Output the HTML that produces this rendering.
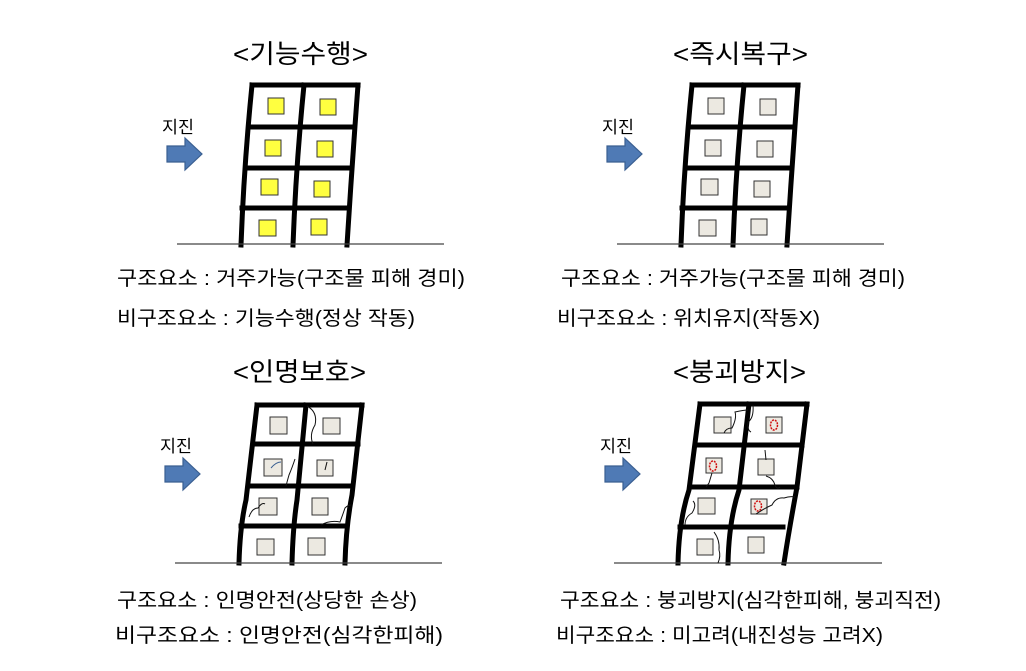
<!DOCTYPE html>
<html><head><meta charset="utf-8"><style>
body{margin:0;background:#fff;width:1026px;height:666px;overflow:hidden}
svg text{font-family:"Liberation Sans","Noto Sans CJK KR",sans-serif;fill:#000}
</style></head><body>
<svg width="1026" height="666" viewBox="0 0 1026 666" xmlns="http://www.w3.org/2000/svg">
<defs>
<g id="arrow"><path d="M0,-8 H18 V-16 L35,0 L18,16 V8 H0 Z" fill="#4f7ab5" stroke="#3a5f91" stroke-width="1.2"/></g>
</defs>
<g fill="none" stroke="#000" stroke-width="5" stroke-linecap="square">
<path d="M252,85 H358 M250,127 H354 M246,168 H351 M242,208 H349"/>
<path d="M252,85 Q244,165 241,245 M304,85 Q296,165 293,245 M358,85 Q352,165 347,245"/>
<path d="M692,85 H798 M690,127 H794 M686,168 H791 M682,208 H789"/>
<path d="M692,85 Q684,165 681,245 M744,85 Q736,165 733,245 M798,85 Q792,165 787,245"/>
<path d="M257,405 H362 M253,444 H358 M248,486 H352 M241,526 H345"/>
<path d="M257,405 L246,500 Q240,526 239,563 M306,405 L297,500 Q293,526 292,563 M362,405 L352,495 Q346,526 345,563"/>
<path d="M700,404 H807 M696,445 H802 M691,487 H797 M680,527 H783"/>
<path d="M700,404 L689,490 Q679,520 678,563 M749,404 L739,490 Q729,520 728,563 M807,404 L797,487 Q789,530 784,563"/>
</g>
<g stroke="#444" stroke-width="1.2">
<line x1="177" y1="244" x2="444" y2="244"/>
<line x1="617" y1="244" x2="884" y2="244"/>
<line x1="175" y1="563" x2="442" y2="563"/>
<line x1="614" y1="563" x2="882" y2="563"/>
</g>
<g fill="#ffff40" stroke="#333" stroke-width="1">
<rect x="268" y="98" width="16" height="16"/><rect x="320" y="99" width="16" height="16"/>
<rect x="265" y="140" width="16" height="16"/><rect x="317" y="141" width="16" height="16"/>
<rect x="261" y="179" width="17" height="16"/><rect x="314" y="181" width="16" height="16"/>
<rect x="259" y="220" width="17" height="16"/><rect x="311" y="219" width="16" height="16"/>
</g>
<g fill="#ece9e1" stroke="#333" stroke-width="1">
<rect x="708" y="98" width="16" height="16"/><rect x="760" y="99" width="16" height="16"/>
<rect x="705" y="140" width="16" height="16"/><rect x="757" y="141" width="16" height="16"/>
<rect x="701" y="179" width="17" height="16"/><rect x="754" y="181" width="16" height="16"/>
<rect x="699" y="220" width="17" height="16"/><rect x="751" y="219" width="16" height="16"/>
<rect x="270" y="417" width="17" height="17"/><rect x="323" y="418" width="17" height="16"/>
<rect x="264" y="459" width="18" height="17"/><rect x="317" y="460" width="16" height="16"/>
<rect x="259" y="498" width="18" height="17"/><rect x="312" y="498" width="16" height="17"/>
<rect x="257" y="539" width="17" height="16"/><rect x="308" y="538" width="17" height="17"/>
<rect x="714" y="417" width="17" height="16"/><rect x="766" y="417" width="16" height="16"/>
<rect x="706" y="458" width="16" height="15"/><rect x="758" y="459" width="16" height="16"/>
<rect x="698" y="498" width="17" height="16"/><rect x="751" y="499" width="16" height="15"/>
<rect x="697" y="539" width="16" height="16"/><rect x="748" y="537" width="16" height="16"/>
</g>
<g fill="none" stroke="#111" stroke-width="1">
<path d="M307,406 Q318,412 315,425 Q309,435 313,444"/>
<path d="M295,459 Q292,468 289,475 Q287,482 286,486"/>
<path d="M271,468 Q276,462 281,462" stroke="#3a5f91"/>
<path d="M325,470 L327,462"/>
<path d="M249,517 Q252,508 258,508 Q262,502 265,504"/>
<path d="M321,525 Q330,520 340,522 Q343,514 345,508 Q348,505 351,505"/>
<path d="M724,433 Q726,428 732,428 Q737,418 735,412 Q744,410 748,410"/>
<path d="M753,405 Q754,418 748,422 Q747,430 751,432"/>
<path d="M765,450 L766,460 M766,476 Q773,478 775,485 Q777,490 780,487"/>
<path d="M712,473 L709,483 L706,487"/>
<path d="M693,501 Q697,505 692,513 Q685,517 685,525"/>
<path d="M756,514 Q765,508 772,505 Q776,497 784,498 Q790,496 795,497"/>
<path d="M714,532 Q720,540 719,550 Q721,556 718,563"/>
</g>
<g fill="none" stroke="#d01010" stroke-width="1.5" stroke-dasharray="2 1">
<ellipse cx="774" cy="425" rx="3.5" ry="5"/>
<ellipse cx="713" cy="466" rx="3.5" ry="5"/>
<ellipse cx="758" cy="506" rx="3.5" ry="5"/>
</g>
<use href="#arrow" x="167" y="154"/>
<use href="#arrow" x="607" y="154"/>
<use href="#arrow" x="165" y="474"/>
<use href="#arrow" x="605" y="474"/>
<g font-size="17">
<text x="162" y="133" textLength="32" lengthAdjust="spacingAndGlyphs">지진</text>
<text x="602" y="133" textLength="32" lengthAdjust="spacingAndGlyphs">지진</text>
<text x="160" y="452" textLength="32" lengthAdjust="spacingAndGlyphs">지진</text>
<text x="600" y="452" textLength="32" lengthAdjust="spacingAndGlyphs">지진</text>
</g>
<g font-size="26" lengthAdjust="spacingAndGlyphs">
<text x="233" y="63" textLength="135" lengthAdjust="spacingAndGlyphs">&lt;기능수행&gt;</text>
<text x="673" y="63" textLength="135" lengthAdjust="spacingAndGlyphs">&lt;즉시복구&gt;</text>
<text x="233" y="381" textLength="133" lengthAdjust="spacingAndGlyphs">&lt;인명보호&gt;</text>
<text x="673" y="381" textLength="133" lengthAdjust="spacingAndGlyphs">&lt;붕괴방지&gt;</text>
</g>
<g font-size="20">
<text x="117" y="285" textLength="348" lengthAdjust="spacingAndGlyphs">구조요소 : 거주가능(구조물 피해 경미)</text>
<text x="117" y="325" textLength="298" lengthAdjust="spacingAndGlyphs">비구조요소 : 기능수행(정상 작동)</text>
<text x="561" y="285" textLength="344" lengthAdjust="spacingAndGlyphs">구조요소 : 거주가능(구조물 피해 경미)</text>
<text x="557" y="325" textLength="263" lengthAdjust="spacingAndGlyphs">비구조요소 : 위치유지(작동X)</text>
<text x="117" y="607" textLength="300" lengthAdjust="spacingAndGlyphs">구조요소 : 인명안전(상당한 손상)</text>
<text x="115" y="642" textLength="328" lengthAdjust="spacingAndGlyphs">비구조요소 : 인명안전(심각한피해)</text>
<text x="560" y="607" textLength="381" lengthAdjust="spacingAndGlyphs">구조요소 : 붕괴방지(심각한피해, 붕괴직전)</text>
<text x="556" y="642" textLength="327" lengthAdjust="spacingAndGlyphs">비구조요소 : 미고려(내진성능 고려X)</text>
</g>
</svg>
</body></html>
